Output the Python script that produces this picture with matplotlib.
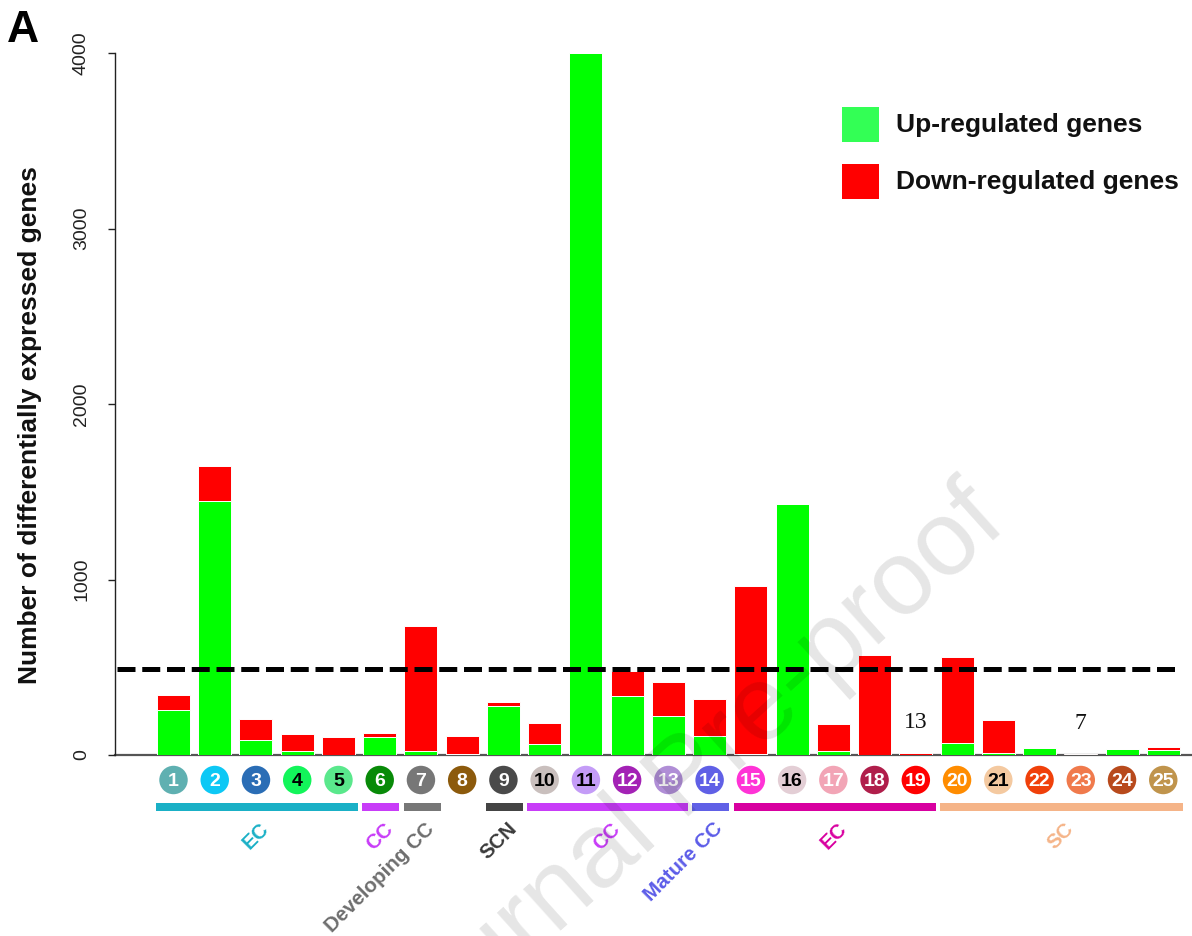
import matplotlib
matplotlib.use("Agg")
import matplotlib.pyplot as plt
from matplotlib.patches import Rectangle

plt.rcParams['font.family'] = ['Liberation Sans', 'DejaVu Sans']

# ---------------- data ----------------
clusters = [str(i) for i in range(1, 26)]
up_regulated = [255, 1450, 85, 25, 0, 100, 20, 3, 278, 63, 4000, 338, 222, 107, 3,
                1430, 22, 2, 0, 67, 12, 38, 0, 32, 28]
down_regulated = [87, 198, 120, 96, 103, 25, 715, 103, 24, 119, 0, 141, 194, 214, 962,
                  0, 155, 570, 13, 493, 188, 0, 7, 0, 18]
threshold = 490

cluster_colors = ['#5fb0b1', '#0dc8f5', '#2a6db5', '#12f55a', '#5ae88c', '#088a08',
                  '#777777', '#8c5a0c', '#4a4a4a', '#c9bfbd', '#c49cf7', '#a322b5',
                  '#b08ed6', '#6060e6', '#ff33d6', '#e3ced5', '#f2a5b6', '#b01e4b',
                  '#ff0000', '#ff8c00', '#f4c9a0', '#f0400a', '#f07a4c', '#b84a1c',
                  '#c0944c']
cluster_text_colors = ['white', 'white', 'white', 'black', 'black', 'white', 'white',
                       'white', 'white', 'black', 'black', 'white', 'white', 'white',
                       'white', 'black', 'white', 'white', 'white', 'white', 'black',
                       'white', 'white', 'white', 'white']

group_labels = ['EC', 'CC', 'Developing CC', 'SCN', 'CC', 'Mature CC', 'EC', 'SC']
group_first = [0, 5, 6, 8, 9, 13, 14, 19]
group_last = [4, 5, 6, 8, 12, 13, 18, 24]
group_colors = ['#1ab0c6', '#c83cf8', '#777777', '#444444', '#c83cf8', '#6060e6',
                '#d800a0', '#f5b488']
group_text_colors = ['#1ab0c6', '#c83cf8', '#6e6e6e', '#3a3a3a', '#c83cf8', '#5c5ce8',
                     '#d800a0', '#f5b488']

legend_labels = ['Up-regulated genes', 'Down-regulated genes']
legend_colors = ['#33ff55', '#ff0000']
up_color = '#00ff00'
down_color = '#ff0000'

# ---------------- figure ----------------
W, H = 1192, 936
fig = plt.figure(figsize=(W / 100, H / 100), dpi=100)
ax_left, ax_right, ax_bottom, ax_top = 115, 1192, 755, 53
ax = fig.add_axes([ax_left / W, 1 - ax_bottom / H, (ax_right - ax_left) / W,
                   (ax_bottom - ax_top) / H])

bar_c0, bar_step = 173.5, 41.24
ax.set_xlim((ax_left - bar_c0) / bar_step, (ax_right - bar_c0) / bar_step)
ax.set_ylim(0, 4000)
px_per_unit = (ax_bottom - ax_top) / 4000.0

x = list(range(len(clusters)))
ax.bar(x, up_regulated, width=0.8, color=up_color, edgecolor='white', linewidth=0.7,
       zorder=2)
ax.bar(x, down_regulated, width=0.8, bottom=up_regulated, color=down_color,
       edgecolor='white', linewidth=0.7, zorder=2)

# small totals annotated
for i, (u, d) in enumerate(zip(up_regulated, down_regulated)):
    tot = u + d
    if 0 < tot < 20:
        ax.annotate(str(tot), xy=(i, tot), xytext=(0, 22), textcoords='offset points',
                    ha='center', va='center', fontsize=17,
                    family=['Liberation Serif', 'DejaVu Serif'], color='#111111')

# threshold line
ax.axhline(threshold, xmin=2 / (ax_right - ax_left), xmax=(1180 - ax_left) / (ax_right - ax_left),
           color='black', lw=3.6, ls=(0, (3.6, 1.35)), zorder=3)

# baseline
ax.axhline(0, color='#555555', lw=1.6, zorder=1, clip_on=False)

# axes styling
for s in ['top', 'right', 'bottom']:
    ax.spines[s].set_visible(False)
ax.spines['left'].set_linewidth(1.0)
ax.spines['left'].set_color('#222222')
ax.set_xticks([])
ax.set_yticks([0, 1000, 2000, 3000, 4000])
ax.set_yticklabels(['0', '1000', '2000', '3000', '4000'], rotation=90, va='center',
                   fontsize=14, color='#222222')
ax.tick_params(axis='y', length=5, width=1.0, pad=13, color='#222222')

# cluster circles
def py2d(py):
    return (ax_bottom - py) / px_per_unit

circle_y = py2d(780)
ax.scatter(x, [circle_y] * len(x), s=420, c=cluster_colors, clip_on=False, zorder=4,
           linewidths=0)
for i, lab in enumerate(clusters):
    ax.text(i, circle_y, lab, ha='center', va='center_baseline', fontsize=14,
            fontweight='bold', color=cluster_text_colors[i], clip_on=False, zorder=5)

# group bars and labels
gb_y0, gb_y1 = py2d(811), py2d(803)
for lab, a, b, c, tc in zip(group_labels, group_first, group_last, group_colors,
                            group_text_colors):
    ax.add_patch(Rectangle((a - 0.42, gb_y0), (b + 0.48) - (a - 0.42), gb_y1 - gb_y0,
                           facecolor=c, edgecolor='none', clip_on=False, zorder=4))
    center = (a + b) / 2.0
    ax.text(center + 0.25, py2d(826), lab, rotation=45, rotation_mode='anchor',
            ha='right', va='center', fontsize=14.8, fontweight='bold', color=tc,
            clip_on=False)

# y label
fig.text(30 / W, 1 - 425 / H, 'Number of differentially expressed genes', rotation=90,
         ha='center', va='center', fontsize=19, fontweight='bold', color='#111111')

# panel letter
fig.text(7 / W, 1 - 42 / H, 'A', fontsize=32, fontweight='bold', ha='left',
         va='baseline', color='black')

# legend (manual)
leg_y = [124, 181.5]
for lab, col, yc in zip(legend_labels, legend_colors, leg_y):
    fig.add_artist(Rectangle((842 / W, 1 - (yc + 17.5) / H), 37 / W, 35 / H,
                             transform=fig.transFigure, facecolor=col, edgecolor='none'))
    fig.text(896 / W, 1 - (yc + 1) / H, lab, ha='left', va='center', fontsize=19,
             fontweight='bold', color='#111111')

# watermark
fig.text(688 / W, 1 - 780 / H, 'Journal Pre-proof', rotation=42, ha='center',
         va='center', fontsize=76, color='black', alpha=0.1, zorder=10)

fig.savefig('out.png', dpi=100)
